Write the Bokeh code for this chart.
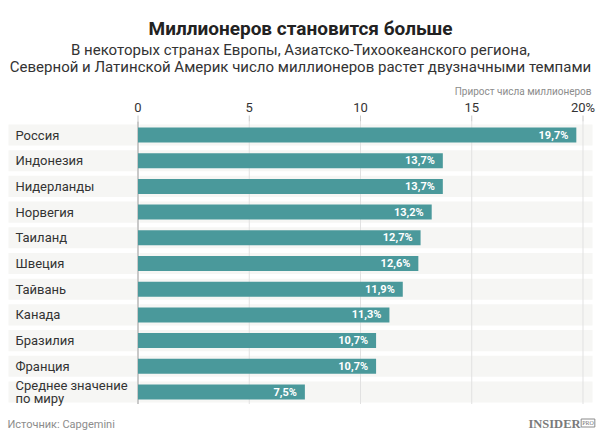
from bokeh.plotting import figure
from bokeh.models import ColumnDataSource, Range1d, Label
from bokeh.core.properties import value
from bokeh.embed import file_html
from bokeh.resources import INLINE

# ---- data ----
countries = ["Россия", "Индонезия", "Нидерланды", "Норвегия", "Таиланд", "Швеция",
             "Тайвань", "Канада", "Бразилия", "Франция", "Среднее значение\nпо миру"]
growth = [19.7, 13.7, 13.7, 13.2, 12.7, 12.6, 11.9, 11.3, 10.7, 10.7, 7.5]
value_labels = ["19,7%", "13,7%", "13,7%", "13,2%", "12,7%", "12,6%",
                "11,9%", "11,3%", "10,7%", "10,7%", "7,5%"]
ticks = [0, 5, 10, 15, 20]
tick_labels = ["0", "5", "10", "15", "20%"]

title_text = "Миллионеров становится больше"
subtitle_1 = "В некоторых странах Европы, Азиатско-Тихоокеанского региона,"
subtitle_2 = "Северной и Латинской Америк число миллионеров растет двузначными темпами"
axis_note = "Прирост числа миллионеров"
source_text = "Источник: Capgemini"

FONT = "Roboto"
BAR = "#4a999b"
BAND = "#f6f6f4"
TXT = "#333333"

W, H = 600, 436
# horizontal scale: value 0 at px 137.5, 22.25 px per unit
X0_PX, XK = 137.5, 22.25
x_start = -X0_PX / XK
x_end = x_start + W / XK
# vertical: row i centred at px 134.5 + 25.7*i (downwards)
Y0_PX, YK = 134.5, 25.7
y_top = -Y0_PX / YK
y_bottom = y_top + H / YK

def xd(px):
    return (px - X0_PX) / XK

def yd(px):
    return (px - Y0_PX) / YK

n = len(countries)
rows = list(range(n))

src = ColumnDataSource(dict(row=rows, country=countries, growth=growth, vl=value_labels,
                            zero=[0] * n,
                            lbl_left=[xd(8)] * n, lbl_right=[xd(136.5)] * n,
                            band_left=[xd(139)] * n, band_right=[xd(592)] * n))

p = figure(width=W, height=H, output_backend="svg", toolbar_location=None,
           x_range=Range1d(x_start, x_end), y_range=Range1d(y_bottom, y_top),
           x_axis_location=None, y_axis_location=None,
           min_border=0, min_border_left=0, min_border_right=0,
           min_border_top=0, min_border_bottom=0)
p.outline_line_color = None
p.background_fill_color = "white"
p.border_fill_color = "white"
p.xgrid.grid_line_color = None
p.ygrid.grid_line_color = None

# row bands
p.hbar(y="row", left="lbl_left", right="lbl_right", height=0.82, source=src,
       fill_color=BAND, line_color=None)
p.hbar(y="row", left="band_left", right="band_right", height=0.82, source=src,
       fill_color=BAND, line_color=None)

# grid lines and tick marks (from tick values)
gsrc = ColumnDataSource(dict(x=ticks, lab=tick_labels,
                             y0=[yd(121)] * len(ticks), y1=[yd(403.5)] * len(ticks),
                             t0=[yd(115)] * len(ticks), ly=[yd(107)] * len(ticks)))
p.segment(x0="x", x1="x", y0="y0", y1="y1", source=gsrc, line_color="#e1e1e1", line_width=1)
p.segment(x0="x", x1="x", y0="t0", y1="y0", source=gsrc, line_color="#c8c8c8", line_width=1)
p.text(x="x", y="ly", text="lab", source=gsrc, text_align="center", text_baseline="middle",
       text_font=value(FONT), text_font_size="13px", text_color=TXT)

# zero line
p.segment(x0=[ticks[0]], x1=[ticks[0]], y0=[yd(121)], y1=[yd(403.5)],
          line_color="#c9c9c9", line_width=2)

# bars
p.hbar(y="row", left="zero", right="growth", height=0.585, source=src,
       fill_color=BAR, line_color=None)

# value labels
p.text(x="growth", y="row", text="vl", source=src, x_offset=-8,
       text_align="right", text_baseline="middle", text_color="white",
       text_font=value(FONT), text_font_style="bold", text_font_size="11px")

# category labels
p.text(x="lbl_left", y="row", text="country", source=src, x_offset=7,
       text_align="left", text_baseline="middle", text_color=TXT,
       text_font=value(FONT), text_font_size="13px", text_line_height=0.85)

# titles etc. (screen units: frame covers whole canvas, origin bottom-left)
def lab(x, y, text, font=FONT, **kw):
    p.add_layout(Label(x=x, y=H - y, x_units="screen", y_units="screen", text=text,
                       text_font=font, **kw))

lab(300, 28, title_text, text_align="center", text_baseline="alphabetic",
    text_font_size="19px", text_font_style="bold", text_color="#222222")
lab(300, 49.5, subtitle_1, text_align="center", text_baseline="alphabetic",
    text_font_size="15px", text_color=TXT)
lab(300, 66, subtitle_2, text_align="center", text_baseline="alphabetic",
    text_font_size="15px", text_color=TXT)
lab(591, 91, axis_note, text_align="right", text_baseline="middle",
    text_font_size="10px", text_color="#8c8c8c")
lab(7, 423.5, source_text, text_align="left", text_baseline="middle",
    text_font_size="11px", text_color="#8c8c8c")
lab(580, 423, "INSIDER", font="Liberation Serif", text_align="right",
    text_baseline="middle", text_font_style="bold", text_font_size="12.5px",
    text_color="#7a7a7a")
lab(587.5, 422.5, "PRO", font="Liberation Serif", text_align="center",
    text_baseline="middle", text_font_size="6px", text_color="#7a7a7a",
    border_line_color="#8a8a8a", border_line_width=1, padding=1)

open("out.html", "w").write(file_html(p, INLINE))
